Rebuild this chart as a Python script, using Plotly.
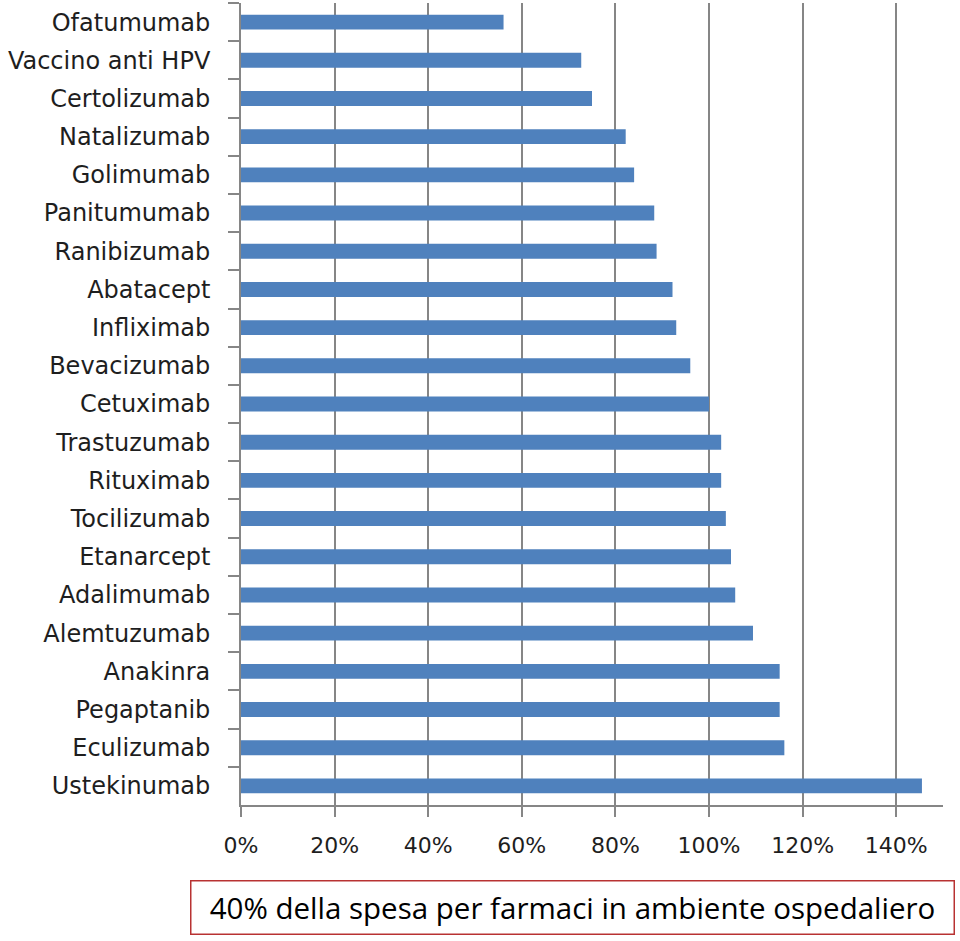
import plotly.graph_objects as go

drugs = ["Ofatumumab", "Vaccino anti HPV", "Certolizumab", "Natalizumab", "Golimumab",
         "Panitumumab", "Ranibizumab", "Abatacept", "Infliximab", "Bevacizumab",
         "Cetuximab", "Trastuzumab", "Rituximab", "Tocilizumab", "Etanarcept",
         "Adalimumab", "Alemtuzumab", "Anakinra", "Pegaptanib", "Eculizumab",
         "Ustekinumab"]
values = [0.561, 0.727, 0.750, 0.822, 0.840,
          0.883, 0.888, 0.922, 0.930, 0.960,
          1.000, 1.026, 1.026, 1.036, 1.047,
          1.056, 1.094, 1.151, 1.151, 1.161,
          1.455]
x_tickvals = [0, 0.2, 0.4, 0.6, 0.8, 1.0, 1.2, 1.4]
note_text = "40% della spesa per farmaci in ambiente ospedaliero"

grid = "#868686"

fig = go.Figure(go.Bar(
    x=values, y=drugs, orientation="h",
    marker=dict(color="#4F81BD", line=dict(width=0)),
    width=0.39,
))

fig.update_layout(
    width=960, height=941,
    margin=dict(l=241, r=17, t=3, b=136),
    paper_bgcolor="white", plot_bgcolor="white",
    showlegend=False,
    xaxis=dict(
        range=[0, 1.5], tickvals=x_tickvals, tickformat=".0%",
        showgrid=True, gridcolor=grid, gridwidth=1.8,
        zeroline=False, showline=True, linecolor=grid, linewidth=1.8,
        ticks="outside", ticklen=10, tickcolor=grid, tickwidth=1.8,
        tickfont=dict(family="DejaVu Sans", size=22, color="#1e1e1e"),
        ticklabelstandoff=10, automargin=False,
    ),
    yaxis=dict(
        autorange="reversed", type="category",
        showgrid=False, showline=True, linecolor=grid, linewidth=1.8,
        ticks="outside", ticklen=11, tickcolor=grid, tickwidth=1.8,
        tickson="boundaries",
        tickfont=dict(family="DejaVu Sans", size=24, color="#1e1e1e"),
        ticklabelstandoff=24, automargin=False,
    ),
    annotations=[dict(
        text=note_text, xref="paper", yref="paper",
        x=0.4722, y=-0.1283, xanchor="center", yanchor="middle",
        showarrow=False, width=756, height=46, align="center",
        bordercolor="#B83232", borderwidth=1.5, borderpad=3,
        bgcolor="white",
        font=dict(family="Open Sans", size=29.5, color="#000000"),
    )],
)

fig.write_html("out.html", config={"displayModeBar": False},
               post_script="document.body.style.margin='0px';")
